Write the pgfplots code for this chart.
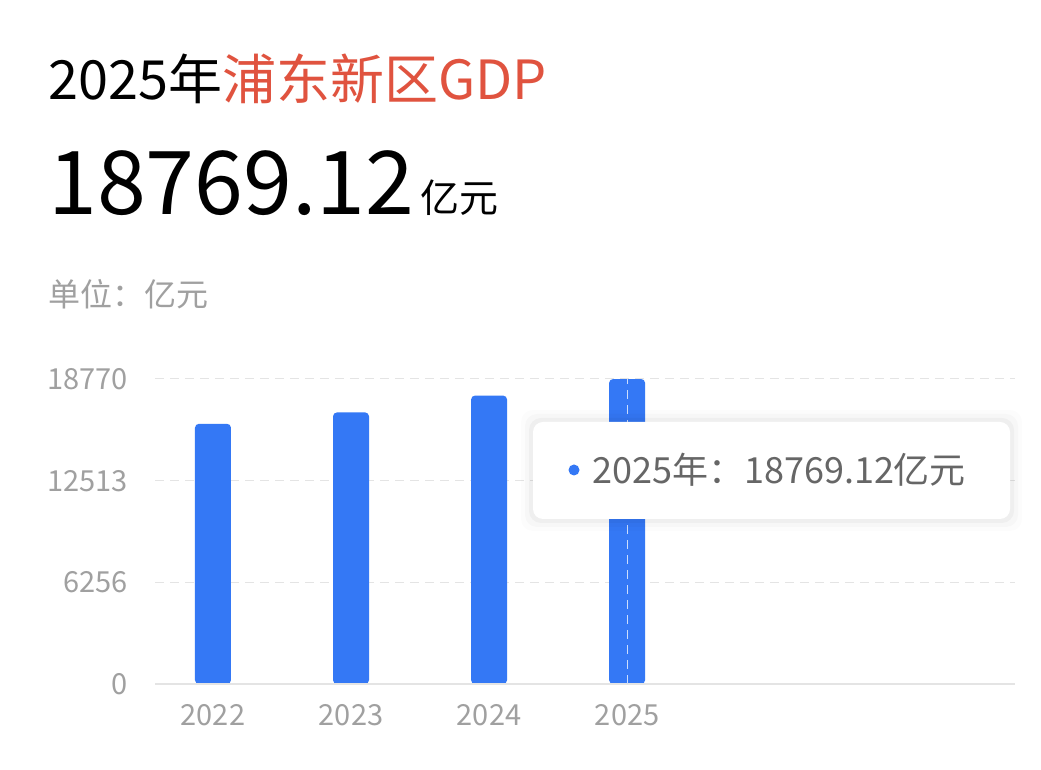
\documentclass[border=0pt]{standalone}
\usepackage{pgfplots}
\pgfplotsset{compat=1.18}
\usepackage{fontspec}
\setmainfont{Noto Sans CJK SC}
\definecolor{barblue}{HTML}{3478F5}
\definecolor{titlered}{HTML}{E0533F}
\definecolor{ticktxt}{HTML}{A0A0A0}
\definecolor{gridcol}{HTML}{E4E4E4}
\definecolor{tiptxt}{HTML}{666666}

\begin{document}
\begin{tikzpicture}[x=1pt,y=1pt]
\path[fill=white,use as bounding box] (0,0) rectangle (1041,770);

% headings
\node[anchor=base west,inner sep=0pt,font=\fontsize{54}{54}\selectfont] at (48,670)
  {2025年\textcolor{titlered}{浦东新区GDP}};
\node[anchor=base west,inner sep=0pt,font=\fontsize{88}{88}\selectfont] at (48,555) {18769.12};
\node[anchor=base west,inner sep=0pt,font=\fontsize{39}{39}\selectfont] at (420,557) {亿元};
\node[anchor=base west,inner sep=0pt,text=ticktxt,font=\fontsize{32}{32}\selectfont] at (48,463) {单位：亿元};

\begin{axis}[
at={(155pt,86pt)},
anchor=south west,
scale only axis,
width=860pt,
height=305pt,
xmin=-0.42, xmax=5.81,
ymin=0, ymax=18770,
axis line style={draw=none},
major tick length=0pt,
xtick={0,1,2,3},
xticklabels={2022,2023,2024,2025},
ytick={0,6256,12513,18770},
yticklabels={0,6256,12513,18770},
scaled y ticks=false,
ymajorgrids,
grid style={gridcol,line width=1pt,dash pattern=on 9pt off 6pt},
ticklabel style={text=ticktxt,font=\fontsize{29}{29}\selectfont},
yticklabel style={anchor=east,inner sep=0pt,xshift=-27pt},
xticklabel style={anchor=north,inner sep=0pt,yshift=-20pt},
/pgf/number format/assume math mode=true,
ybar,
bar width=36pt,
clip=false,
]
\addplot[fill=barblue,draw=none,rounded corners=4pt] coordinates {(0,16013) (1,16715) (2,17750) (3,18769.12)};
\draw[gridcol,line width=1.5pt] (axis cs:-0.42,0) -- (axis cs:5.81,0);
\draw[white!75!barblue,line width=1pt,dash pattern=on 9pt off 6pt] (axis cs:3,0) -- (axis cs:3,18770);
\end{axis}

% tooltip
\foreach \s/\o in {12/0.012,8/0.02,4/0.03}
  \fill[black,opacity=\o,rounded corners=12pt] (533-\s,251-\s) rectangle (1010+\s,348+\s);
\fill[white,rounded corners=10pt] (533,251) rectangle (1010,348);
\fill[barblue] (574,300) circle (5.5);
\node[anchor=base west,inner sep=0pt,text=tiptxt,font=\fontsize{36}{36}\selectfont] at (592,286)
  {2025年：18769.12亿元};
\end{tikzpicture}
\end{document}
